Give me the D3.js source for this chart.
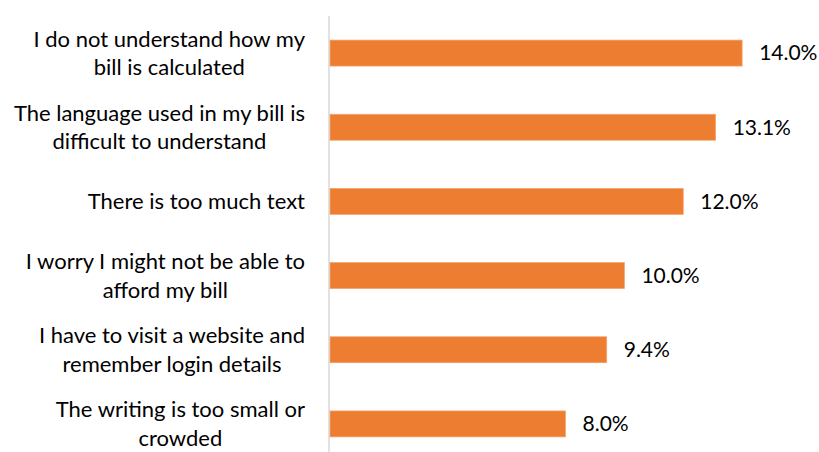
<!DOCTYPE html>
<html>
<head>
<meta charset="utf-8">
<script src="https://cdn.jsdelivr.net/npm/d3@7"></script>
<style>
  html, body { margin: 0; padding: 0; background: #fff; }
  svg { display: block; }
  text { font-family: Lato, "Open Sans", sans-serif; fill: #000; }
</style>
</head>
<body>
<svg id="chart" width="819" height="452"></svg>
<script>
// Reasons people find their bill hard to understand
const categories = [
  "I do not understand how my bill is calculated",
  "The language used in my bill is difficult to understand",
  "There is too much text",
  "I worry I might not be able to afford my bill",
  "I have to visit a website and remember login details",
  "The writing is too small or crowded"
];
const labelLines = [
  ["I do not understand how my", "bill is calculated"],
  ["The language used in my bill is", "difficult to understand"],
  ["There is too much text"],
  ["I worry I might not be able to", "afford my bill"],
  ["I have to visit a website and", "remember login details"],
  ["The writing is too small or", "crowded"]
];
const values = [0.140, 0.131, 0.120, 0.100, 0.094, 0.080];
const valueLabels = ["14.0%", "13.1%", "12.0%", "10.0%", "9.4%", "8.0%"];

const svg = d3.select("#chart");
const catFont = 22;
const valFont = 21;
const lineHeight = 28.5;
const labelRight = 305;

const x = d3.scaleLinear().domain([0, 0.16]).range([330, 801]);
const y = d3.scaleBand().domain(categories).range([16, 461])
  .paddingInner(0.65).paddingOuter(0.325);

// vertical category axis line
svg.append("line")
  .attr("x1", 329).attr("x2", 329)
  .attr("y1", 16).attr("y2", 452)
  .attr("stroke", "#d9d9d9").attr("stroke-width", 1.5);

// bars
svg.selectAll("rect.bar").data(categories).join("rect")
  .attr("class", "bar")
  .attr("x", x(0))
  .attr("y", d => y(d))
  .attr("width", (d, i) => x(values[i]) - x(0))
  .attr("height", y.bandwidth())
  .attr("fill", "#ED7D31")
  .attr("stroke", "#F4A46E").attr("stroke-width", 0.75);

// value labels
svg.selectAll("text.val").data(categories).join("text")
  .attr("class", "val")
  .attr("x", (d, i) => x(values[i]) + 17)
  .attr("y", d => y(d) + y.bandwidth() / 2)
  .attr("dy", "0.35em")
  .attr("font-size", valFont)
  .text((d, i) => valueLabels[i]);

// category labels: wrapped lines centred within a block that ends at labelRight
const lab = svg.selectAll("text.cat").data(categories).join("text")
  .attr("class", "cat")
  .attr("text-anchor", "middle")
  .attr("font-size", catFont);
lab.each(function(d, i) {
  const lines = labelLines[i];
  const cy = y(d) + y.bandwidth() / 2;
  const t = d3.select(this);
  const spans = lines.map((ln, k) => t.append("tspan")
      .attr("y", cy + (k - (lines.length - 1) / 2) * lineHeight)
      .attr("dy", "0.35em")
      .text(ln));
  const widths = spans.map(s => s.node().getComputedTextLength());
  const cx = labelRight - d3.max(widths) / 2;
  spans.forEach(s => s.attr("x", cx));
});
</script>
</body>
</html>
